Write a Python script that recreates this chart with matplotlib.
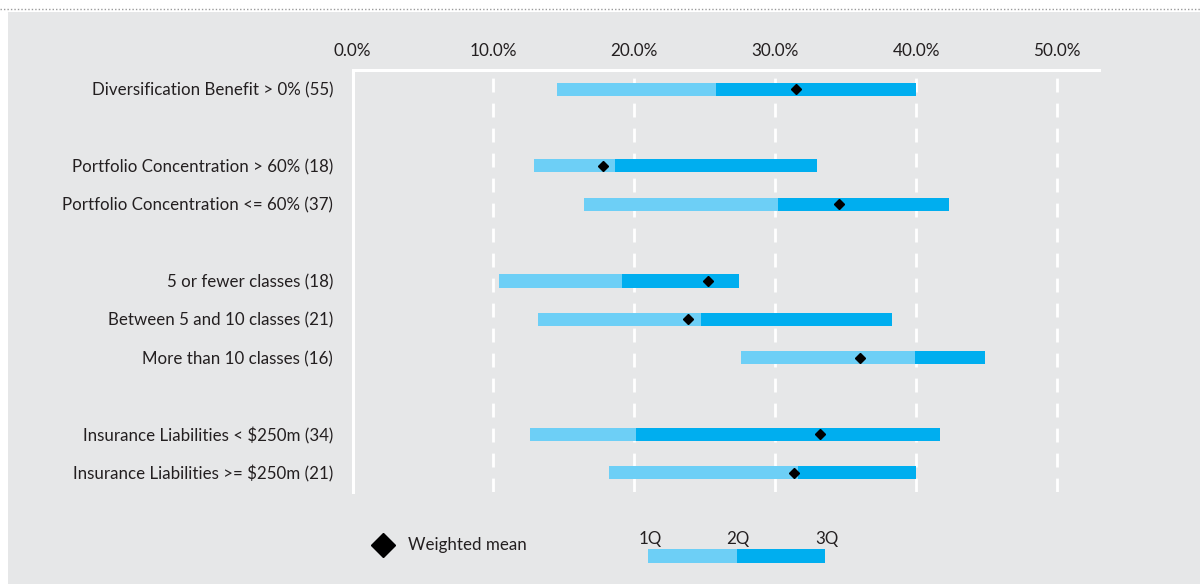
import matplotlib
matplotlib.use("Agg")
import matplotlib.pyplot as plt
from matplotlib.lines import Line2D

# ---- data ----
categories = [
    "Diversification Benefit > 0% (55)",
    "Portfolio Concentration > 60% (18)",
    "Portfolio Concentration <= 60% (37)",
    "5 or fewer classes (18)",
    "Between 5 and 10 classes (21)",
    "More than 10 classes (16)",
    "Insurance Liabilities < $250m (34)",
    "Insurance Liabilities >= $250m (21)",
]
row_pos = [0, 2, 3, 5, 6, 7, 9, 10]
q1 = [14.5, 12.9, 16.4, 10.4, 13.2, 27.6, 12.6, 18.2]
q2 = [25.8, 18.6, 30.2, 19.1, 24.7, 39.9, 20.1, 31.6]
q3 = [40.0, 33.0, 42.3, 27.4, 38.3, 44.9, 41.7, 40.0]
wmean = [31.5, 17.8, 34.5, 25.2, 23.8, 36.0, 33.2, 31.3]
xticks = [0, 10, 20, 30, 40, 50]
xtick_labels = ["0.0%", "10.0%", "20.0%", "30.0%", "40.0%", "50.0%"]
legend_q_labels = ["1Q", "2Q", "3Q"]

LIGHT = "#6dcff6"
DARK = "#00aeef"
BG = "#e6e7e8"
TXT = "#231f20"
FONT = "Lato"
FS = 12.2

plt.rcParams["font.family"] = [FONT, "DejaVu Sans"]

W, H = 1200, 584
fig = plt.figure(figsize=(W / 100, H / 100), dpi=100)
fig.patch.set_facecolor("white")

# grey panel and dotted top rule
panel = plt.Rectangle((8 / W, 0), 1 - 8 / W, 1 - 12 / H, transform=fig.transFigure,
                      facecolor=BG, edgecolor="none", zorder=-10)
fig.add_artist(panel)
fig.add_artist(Line2D([0, 1], [1 - 9 / H, 1 - 9 / H], transform=fig.transFigure,
                      color="#9a9a9a", lw=1.0, linestyle=(0, (1, 1.5)), zorder=-9))

ax = fig.add_axes([352.5 / W, 1 - 492 / H, (1099 - 352.5) / W, (492 - 70) / H])
ax.set_facecolor("none")
ax.set_xlim(0, (1099 - 352.5) / 14.09)
ax.set_ylim(10.5, -0.5)

bh = 0.34
widths_a = [b - a for a, b in zip(q1, q2)]
widths_b = [b - a for a, b in zip(q2, q3)]
ax.barh(row_pos, widths_a, left=q1, height=bh, color=LIGHT, zorder=3)
ax.barh(row_pos, widths_b, left=q2, height=bh, color=DARK, zorder=3)
ax.plot(wmean, row_pos, linestyle="none", marker="D", markersize=5.5, color="black", zorder=4)

for x in xticks[1:]:
    ax.axvline(x, color="white", lw=2, linestyle=(0, (5, 4)), zorder=1)

for s in ["right", "bottom"]:
    ax.spines[s].set_visible(False)
for s in ["top", "left"]:
    ax.spines[s].set_color("white")
    ax.spines[s].set_linewidth(2.2)

ax.xaxis.tick_top()
ax.set_xticks(xticks)
ax.set_xticklabels(xtick_labels)
ax.set_yticks(row_pos)
ax.set_yticklabels(categories)
ax.tick_params(axis="both", length=0, labelsize=FS, colors=TXT)
ax.tick_params(axis="x", pad=8, labelsize=12.3)
ax.tick_params(axis="y", pad=14)

# legend: weighted mean
fig.add_artist(Line2D([383 / W], [1 - 545 / H], transform=fig.transFigure, marker="D",
                      markersize=12, color="black", linestyle="none"))
fig.text(408 / W, 1 - 545 / H, "Weighted mean", fontsize=FS, color=TXT, va="center", ha="left")

# legend: quartile bar
lax = fig.add_axes([648 / W, 1 - 563 / H, (825 - 648) / W, (563 - 549) / H])
lax.set_xlim(0, 2)
lax.set_ylim(-0.5, 0.5)
lax.barh([0], [1], left=[0], height=1, color=LIGHT)
lax.barh([0], [1], left=[1], height=1, color=DARK)
lax.axis("off")
for i, lab in enumerate(legend_q_labels):
    lax.text(i + 0.02, 1.7, lab, fontsize=FS, color=TXT, ha="center", va="center",
             transform=lax.get_xaxis_transform())

fig.savefig("out.png", dpi=100)
